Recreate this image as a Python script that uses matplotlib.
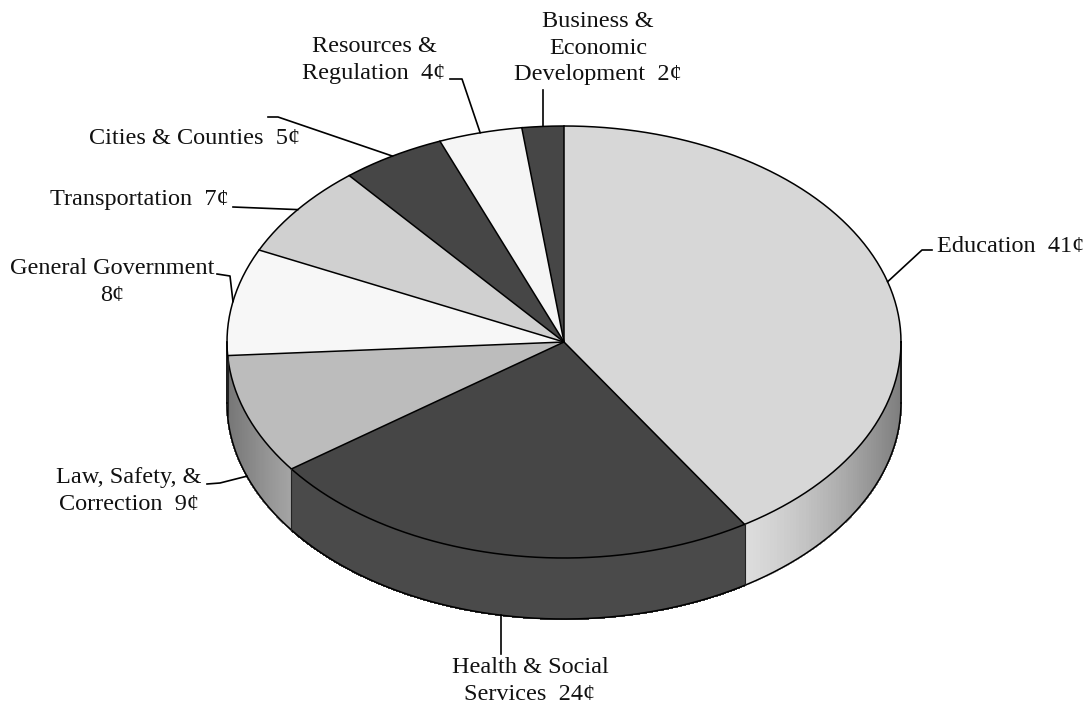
import numpy as np
import matplotlib.pyplot as plt
from matplotlib.collections import PolyCollection
from matplotlib.patches import Polygon

plt.rcParams['font.family'] = ['Liberation Serif', 'DejaVu Serif']

# where each dollar goes (cents), clockwise from 12 o'clock
names = ['Education', 'Health & Social\nServices', 'Law, Safety, &\nCorrection',
         'General Government', 'Transportation', 'Cities & Counties',
         'Resources &\nRegulation', 'Business &\nEconomic\nDevelopment']
cents = [41, 24, 9, 8, 7, 5, 4, 2]
sep = ['  ', '  ', '  ', '\n', '  ', '  ', '  ', '  ']

top_colors = ['#d7d7d7', '#464646', '#bcbcbc', '#f7f7f7', '#d0d0d0', '#464646', '#f5f5f5', '#464646']
side_colors = ['#e2e2e2', '#4a4a4a', '#d6d6d6', '#f0f0f0', '#d0d0d0', '#4a4a4a', '#f0f0f0', '#4a4a4a']

# pie geometry in pixels
cx, cy = 564, 342
rx, ry = 337, 216
depth = 61


def pt(t, dz=0.0):
    t = np.radians(t)
    return cx + rx * np.cos(t), cy - ry * np.sin(t) + dz


def shade(color, t):
    c = np.array(plt.matplotlib.colors.to_rgb(color))
    # dark walls stay flat, light walls darken toward the rim ends
    strength = 0.45 * np.clip((c.mean() - 0.35) / 0.45, 0, 1)
    k = np.clip((abs(np.cos(np.radians(t))) - 0.45) / 0.55, 0, 1) ** 1.6
    return tuple(c * (1 - strength * k))


fracs = np.array(cents) / sum(cents)
bounds = 90 - 360 * np.concatenate([[0], np.cumsum(fracs)])
mids = (bounds[:-1] + bounds[1:]) / 2

fig = plt.figure(figsize=(10.91, 7.08), dpi=100)
ax = fig.add_axes([0, 0, 1, 1])
ax.set_xlim(0, 1091)
ax.set_ylim(708, 0)
ax.axis('off')

# side walls (front half only)
quads, cols = [], []
for i in range(len(cents)):
    hi = min(bounds[i], 0)
    lo = max(bounds[i + 1], -180)
    if lo >= hi:
        continue
    ts = np.linspace(hi, lo, 80)
    for t0, t1 in zip(ts[:-1], ts[1:]):
        quads.append([pt(t0), pt(t1), pt(t1, depth), pt(t0, depth)])
        cols.append(shade(side_colors[i], (t0 + t1) / 2))
ax.add_collection(PolyCollection(quads, facecolors=cols, edgecolors=cols,
                                 linewidths=0.8, antialiased=False))

# top slices
for i in range(len(cents)):
    ts = np.linspace(bounds[i], bounds[i + 1], 120)
    verts = [(cx, cy)] + [pt(t) for t in ts]
    ax.add_patch(Polygon(verts, closed=True, facecolor=top_colors[i], edgecolor='none'))

# outlines
lw = 1.1
tt = np.linspace(0, 360, 400)
ax.plot(*pt(tt), color='black', lw=lw)
tb = np.linspace(-180, 0, 200)
ax.plot(*pt(tb, depth), color='black', lw=lw)
for t in [0, -180]:
    x, y = pt(t)
    ax.plot([x, x], [y, y + depth], color='black', lw=lw)
for b in bounds[:-1]:
    x, y = pt(b)
    ax.plot([cx, x], [cy, y], color='black', lw=lw)
    if -180 < b < 0:
        ax.plot([x, x], [y, y + depth], color='#222222', lw=0.8)

# labels: text anchor, alignment, leader knee points
label_pos = [(937, 247, 'left'), (530, 681, 'center'), (129, 491, 'center'),
             (112, 282, 'center'), (229, 200, 'right'), (300, 138, 'right'),
             (374, 60, 'center'), (598, 48, 'center')]
leaders = [[(932, 250), (922, 250)], [(None, 654)], [(207, 484), (220, 483)],
           [(217, 274), (230, 276)], [(233, 207)], [(268, 117), (278, 117)],
           [(450, 79), (462, 79)], [(None, 90)]]

for i in range(len(cents)):
    x, y, ha = label_pos[i]
    ax.text(x, y, f'{names[i]}{sep[i]}{cents[i]}¢', ha=ha, va='center',
            fontsize=17.5, linespacing=1.36, color='#111111')
    m = mids[i]
    front = np.sin(np.radians(m)) < 0
    ex, ey = pt(m, depth if front else 0)
    path = [(ex if px is None else px, py) for px, py in leaders[i]] + [(ex, ey)]
    xs, ys = zip(*path)
    ax.plot(xs, ys, color='black', lw=1.2)

plt.savefig('out.png', dpi=100, facecolor='white')
